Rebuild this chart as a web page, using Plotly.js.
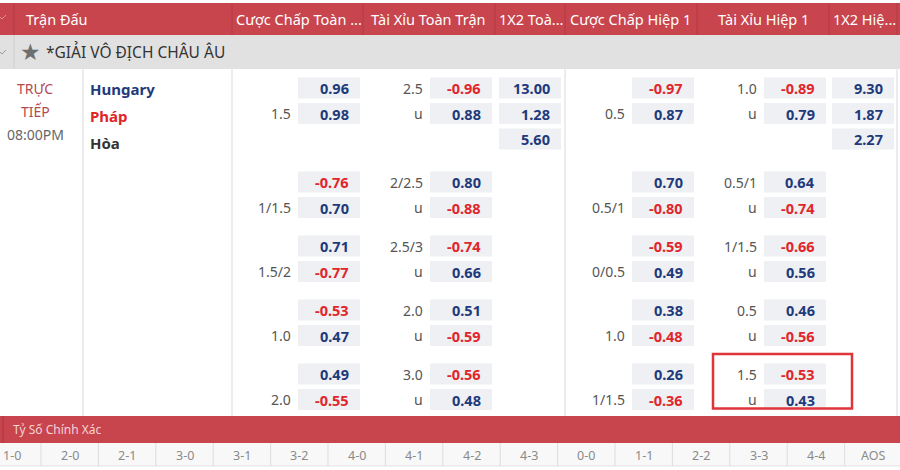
<!DOCTYPE html>
<html><head><meta charset="utf-8">
<script src="https://cdn.plot.ly/plotly-3.0.1.min.js"></script>
<style>html,body{margin:0;padding:0;background:#fff;overflow:hidden}#chart{width:900px;height:470px}</style>
</head><body><div id="chart"></div><script>
// ---------- data ----------
const headers = ["Trận Đấu", "Cược Chấp Toàn ...", "Tài Xỉu Toàn Trận", "1X2 Toà...", "Cược Chấp Hiệp 1", "Tài Xỉu Hiệp 1", "1X2 Hiệ..."];
const league = "*GIẢI VÔ ĐỊCH CHÂU ÂU";
const statusLines = ["TRỰC", "TIẾP", "08:00PM"];
const teams = ["Hungary", "Pháp", "Hòa"];
const ftHdpLine = ["1.5", "1/1.5", "1.5/2", "1.0", "2.0"];
const ftHdpHome = [0.96, -0.76, 0.71, -0.53, 0.49];
const ftHdpAway = [0.98, 0.70, -0.77, 0.47, -0.55];
const ftOuLine = ["2.5", "2/2.5", "2.5/3", "2.0", "3.0"];
const ftOver = [-0.96, 0.80, -0.74, 0.51, -0.56];
const ftUnder = [0.88, -0.88, 0.66, -0.59, 0.48];
const ft1x2 = [13.00, 1.28, 5.60];
const h1HdpLine = ["0.5", "0.5/1", "0/0.5", "1.0", "1/1.5"];
const h1HdpHome = [-0.97, 0.70, -0.59, 0.38, 0.26];
const h1HdpAway = [0.87, -0.80, 0.49, -0.48, -0.36];
const h1OuLine = ["1.0", "0.5/1", "1/1.5", "0.5", "1.5"];
const h1Over = [-0.89, 0.64, -0.66, 0.46, -0.53];
const h1Under = [0.79, -0.74, 0.56, -0.56, 0.43];
const h11x2 = [9.30, 1.87, 2.27];
const underLabel = "u";
const correctScoreTitle = "Tỷ Số Chính Xác";
const scores = ["1-0","2-0","2-1","3-0","3-1","3-2","4-0","4-1","4-2","4-3","0-0","1-1","2-2","3-3","4-4","AOS"];
const highlightRow = 4; // highlighted first-half over/under line

// ---------- layout / style ----------
const FONT = "'Noto Sans', 'Open Sans', sans-serif";
const RED = "#c8454e", RED_DARK = "#b23a43", GREY_ROW = "#e1e1e1";
const BOX = "#eef0f3", BLUE = "#1e3a7b", NEG = "#e0262b", LBL = "#555";
const shapes = [], ann = [];
function rect(x0, y0, x1, y1, fill, layer) {
  shapes.push({type:'rect', xref:'x', yref:'y', x0, y0, x1, y1, fillcolor:fill, line:{width:0}, layer: layer||'below'});
}
function line(x0, y0, x1, y1, c, w) {
  shapes.push({type:'line', xref:'x', yref:'y', x0, y0, x1, y1, line:{color:c, width:w||1}, layer:'below'});
}
function txt(x, y, t, o) {
  const base = {xref:'x', yref:'y', x, y, text:t, showarrow:false, xanchor:'left', yanchor:'middle', borderpad:0,
    font:{family:FONT, size:14, color:'#333'}};
  if (o && o.font) { o.font = Object.assign({}, base.font, o.font); }
  ann.push(Object.assign(base, o||{}));
}

// header
rect(0, 3, 900, 35, RED);
[14, 232, 363, 495, 565, 697, 829, 897].forEach(x => line(x, 3, x, 35, RED_DARK, 1));
shapes.push({type:'path', xref:'x', yref:'y', path:"M-1,16 L2,19 L6,15", line:{color:'#e58a90', width:1}});
const hdrX = [25, 235, 370, 498, 569, 763, 832];
headers.forEach((h, i) => txt(hdrX[i], 19, h, {xanchor: i===5 ? 'center':'left', font:{size:14.5, color:'#fff'}}));

// league row
rect(0, 35, 900, 69, GREY_ROW);
line(14, 35, 14, 69, '#cfcfcf', 1);
shapes.push({type:'path', xref:'x', yref:'y', path:"M-1,51 L2,54 L6,50", line:{color:'#999', width:1}});
txt(30, 52, "★", {xanchor:'center', font:{size:23, color:'#6f6f6f', family:'DejaVu Sans'}});
txt(45, 52, league, {font:{size:15.5, color:'#333'}});

// body lines
[83, 232, 565, 897].forEach(x => line(x, 69, x, 416, '#d9d9d9', 1));

// status + teams
const stY = [88, 111, 134];
statusLines.forEach((s, i) => txt(35, stY[i], s, {xanchor:'center', font:{size:14, color: i<2 ? '#b24a4e' : '#666'}}));
const teamY = [89, 116, 143];
const teamC = [BLUE, '#e02424', '#333'];
teams.forEach((t, i) => txt(89, teamY[i], "<b>" + t + "</b>", {font:{size:15, color:teamC[i]}}));

// odds helpers
const fmt = v => v.toFixed(2);
function oddsBox(x0, yc, v) {
  rect(x0, yc - 10.5, x0 + 62, yc + 10.5, BOX);
  txt(x0 + 52, yc, "<b>" + fmt(v) + "</b>", {xanchor:'right', font:{size:14.5, color: v < 0 ? NEG : BLUE}});
}
function lbl(xr, yc, s) { if (s) txt(xr, yc, s, {xanchor:'right', font:{size:14, color:LBL}}); }

const groupY = [88, 182, 246, 310, 374];
const pitch = 25.5;
function hdpCol(left, lines, home, away) {
  lines.forEach((l, i) => {
    const y = groupY[i];
    oddsBox(left + 66, y, home[i]);
    oddsBox(left + 66, y + pitch, away[i]);
    lbl(left + 60, y + pitch, l);
  });
}
function ouCol(left, lines, over, under) {
  lines.forEach((l, i) => {
    const y = groupY[i];
    oddsBox(left + 67, y, over[i]);
    oddsBox(left + 67, y + pitch, under[i]);
    lbl(left + 61, y, l);
    lbl(left + 61, y + pitch, underLabel);
  });
}
function x12Col(left, vals) {
  vals.forEach((v, i) => oddsBox(left, groupY[0] + i * pitch, v));
}
hdpCol(232, ftHdpLine, ftHdpHome, ftHdpAway);
ouCol(363, ftOuLine, ftOver, ftUnder);
x12Col(499, ft1x2);
hdpCol(566, h1HdpLine, h1HdpHome, h1HdpAway);
ouCol(697, h1OuLine, h1Over, h1Under);
x12Col(832, h11x2);

// highlight box
const hy = groupY[highlightRow];
shapes.push({type:'rect', xref:'x', yref:'y', x0:713, x1:852, y0:hy - 20, y1:hy + pitch + 9, fillcolor:'rgba(0,0,0,0)', line:{color:'#e0343a', width:2.5}, layer:'above'});

// correct score bar
rect(0, 416, 900, 443, RED);
line(3, 416, 3, 443, RED_DARK, 1.5);
txt(12, 429.5, correctScoreTitle, {font:{size:12, color:'#f6d3d6'}});
rect(0, 443, 900, 466, '#f8f8f8');
line(0, 466, 900, 466, '#e2e2e2', 1);
const cellW = 57.4, firstEdge = 41;
scores.forEach((s, i) => {
  const x0 = firstEdge + (i - 1) * cellW;
  if (i > 0) line(x0, 443, x0, 466, '#dddddd', 1);
  txt(x0 + cellW / 2, 455, s, {xanchor:'center', font:{size:12.5, color:'#8a8a8a'}});
});

const layout = {
  width: 900, height: 470, margin:{l:0, r:0, t:0, b:0},
  paper_bgcolor:'#fff', plot_bgcolor:'#fff', showlegend:false,
  xaxis:{range:[0, 900], visible:false, fixedrange:true},
  yaxis:{range:[470, 0], visible:false, fixedrange:true},
  shapes, annotations: ann
};
Plotly.newPlot('chart', [{x:[], y:[], type:'scatter'}], layout, {displayModeBar:false, staticPlot:true});
</script></body></html>
